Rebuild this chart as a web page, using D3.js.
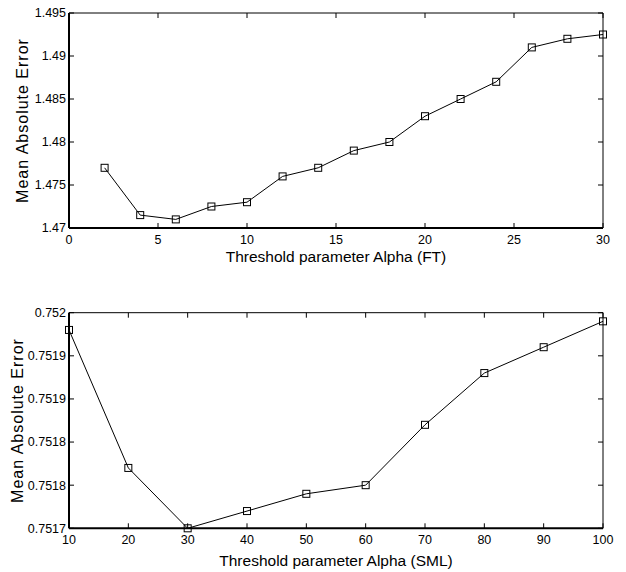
<!DOCTYPE html>
<html><head><meta charset="utf-8">
<script src="https://cdn.jsdelivr.net/npm/d3@7"></script>
<style>body{margin:0;background:#fff}svg{display:block}text{font-family:"Liberation Sans",Arial,sans-serif;fill:#000}</style>
</head><body><svg id="c" width="626" height="572"></svg>
<script>
// Top panel (FT)
const ftAlpha = [2,4,6,8,10,12,14,16,18,20,22,24,26,28,30];
const ftMAE = [1.477,1.4715,1.471,1.4725,1.473,1.476,1.477,1.479,1.480,1.483,1.485,1.487,1.491,1.492,1.4925];
const ftXTicks = [0,5,10,15,20,25,30];
const ftYTicks = [1.47,1.475,1.48,1.485,1.49,1.495];
const ftYLabels = ["1.47","1.475","1.48","1.485","1.49","1.495"];
// Bottom panel (SML)
const smlAlpha = [10,20,30,40,50,60,70,80,90,100];
const smlMAE = [0.75193,0.75177,0.75170,0.75172,0.75174,0.75175,0.75182,0.75188,0.75191,0.75194];
const smlXTicks = [10,20,30,40,50,60,70,80,90,100];
const smlYTicks = [0.75170,0.75175,0.75180,0.75185,0.75190,0.75195];
const smlYLabels = ["0.7517","0.7518","0.7518","0.7519","0.7519","0.752"];

const svg = d3.select("#c");

function panel(cfg){
  const {x0,x1,y0,y1,xd,yd,xs,ys,xt,yt,ytl,xlabel,ylabX,xlabY} = cfg;
  const x = d3.scaleLinear().domain(xd).range([x0,x1]);
  const y = d3.scaleLinear().domain(yd).range([y1,y0]);
  const g = svg.append("g");
  const tl = 5;
  xt.forEach(v=>{
    g.append("line").attr("x1",x(v)).attr("x2",x(v)).attr("y1",y1).attr("y2",y1-tl).attr("stroke","#000").attr("stroke-width",1);
    g.append("line").attr("x1",x(v)).attr("x2",x(v)).attr("y1",y0).attr("y2",y0+tl).attr("stroke","#000").attr("stroke-width",1);
    g.append("text").attr("x",x(v)).attr("y",y1+16).attr("text-anchor","middle").attr("font-size","12.5px").text(v);
  });
  yt.forEach((v,i)=>{
    g.append("line").attr("x1",x0).attr("x2",x0+tl).attr("y1",y(v)).attr("y2",y(v)).attr("stroke","#000").attr("stroke-width",1);
    g.append("line").attr("x1",x1).attr("x2",x1-tl).attr("y1",y(v)).attr("y2",y(v)).attr("stroke","#000").attr("stroke-width",1);
    g.append("text").attr("x",x0-3).attr("y",y(v)).attr("dy","0.35em").attr("text-anchor","end").attr("font-size","12.5px").text(ytl[i]);
  });
  g.append("line").attr("x1",x0).attr("x2",x1).attr("y1",y0).attr("y2",y0).attr("stroke","#000").attr("stroke-width",1);
  g.append("line").attr("x1",x1).attr("x2",x1).attr("y1",y0).attr("y2",y1).attr("stroke","#000").attr("stroke-width",1);
  g.append("line").attr("x1",x0).attr("x2",x1).attr("y1",y1).attr("y2",y1).attr("stroke","#000").attr("stroke-width",2);
  g.append("line").attr("x1",x0).attr("x2",x0).attr("y1",y0).attr("y2",y1).attr("stroke","#000").attr("stroke-width",2);
  const pts = xs.map((v,i)=>[v,ys[i]]);
  g.append("path").attr("d",d3.line().x(d=>x(d[0])).y(d=>y(d[1]))(pts)).attr("fill","none").attr("stroke","#000").attr("stroke-width",1);
  g.selectAll("rect.m").data(pts).enter().append("rect")
    .attr("x",d=>x(d[0])-3.5).attr("y",d=>y(d[1])-3.5).attr("width",7).attr("height",7)
    .attr("fill","none").attr("stroke","#000").attr("stroke-width",1);
  g.append("text").attr("x",(x0+x1)/2).attr("y",xlabY).attr("text-anchor","middle").attr("font-size","15.5px").text(xlabel);
  g.append("text").attr("transform",`translate(${ylabX},${(y0+y1)/2}) rotate(-90)`).attr("text-anchor","middle").attr("font-size","16px").attr("letter-spacing","1px").text("Mean Absolute Error");
}

panel({x0:69,x1:603,y0:13,y1:228,xd:[0,30],yd:[1.47,1.495],xs:ftAlpha,ys:ftMAE,xt:ftXTicks,yt:ftYTicks,ytl:ftYLabels,
  xlabel:"Threshold parameter Alpha (FT)",ylabX:28,xlabY:262});
panel({x0:69,x1:603,y0:312.7,y1:528.3,xd:[10,100],yd:[0.7517,0.75195],xs:smlAlpha,ys:smlMAE,xt:smlXTicks,yt:smlYTicks,ytl:smlYLabels,
  xlabel:"Threshold parameter Alpha (SML)",ylabX:23,xlabY:566});
</script></body></html>
